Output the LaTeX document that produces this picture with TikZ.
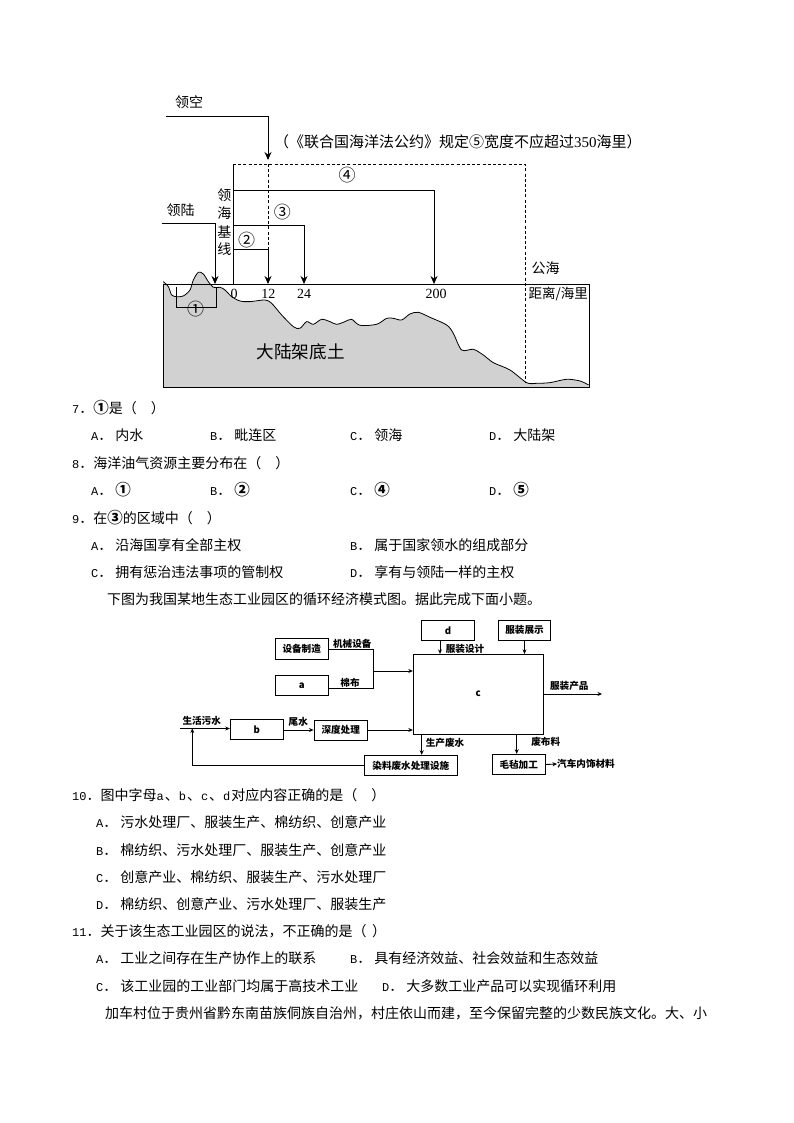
\documentclass[tikz,border=0pt]{standalone}
\usepackage{fontspec}
\setmainfont{Noto Sans CJK SC}
\setmonofont{Liberation Mono}
\newfontfamily\numfont{Liberation Serif}
\usetikzlibrary{arrows.meta}
\usetikzlibrary{positioning}
\newcommand{\ql}[1]{{\ttfamily\fontsize{12}{12}\selectfont #1}}
\newcommand{\opt}[1]{\ql{#1}．\hspace{3pt}}
\newcommand{\cq}[1]{{\bfseries\fontsize{15.5}{16}\selectfont #1}}
\tikzset{
    qline/.style={anchor=west,inner sep=0pt,font=\fontsize{14}{16}\selectfont},
    maplabel/.style={inner sep=0pt,font=\fontsize{14}{16}\selectfont},
    zonelabel/.style={inner sep=0pt,font=\fontsize{17}{18}\selectfont},
    mapnum/.style={inner sep=0pt,font=\numfont\fontsize{14}{16}\selectfont},
    maparrow/.style={line width=0.9pt,-{Stealth[length=8pt,width=7pt]}},
    mapline/.style={line width=0.9pt},
    mapdash/.style={line width=0.9pt,dash pattern=on 3pt off 2.2pt},
    flowbox/.style={draw,line width=1pt,inner sep=0pt,font=\bfseries\fontsize{9.6}{11}\selectfont},
    flowlabel/.style={inner sep=0pt,font=\bfseries\fontsize{9.6}{11}\selectfont},
    flowarrow/.style={line width=0.9pt,-{Stealth[length=4.5pt,width=4pt]}},
    flowline/.style={line width=0.9pt}
}
\begin{document}
\begin{tikzpicture}[x=1pt,y=-1pt]
    \useasboundingbox (0,0) rectangle (794,1123);
    % zone map
    \begin{scope}[shift={(150,80)},x=0.3333pt,y=-0.3333pt]
        \fill[black!18] (40,922) -- (40,605) -- plot[smooth,tension=0.5] coordinates {(40,605) (55,620) (65,645) (80,650) (100,648) (120,630) (130,600) (145,577) (160,582) (175,605) (190,622) (210,622) (225,630) (245,650) (270,663) (300,665) (345,660) (365,670) (395,705) (430,740) (450,745) (470,725) (490,733) (515,718) (540,725) (560,733) (585,725) (605,718) (630,736) (680,733) (710,715) (730,715) (755,720) (780,702) (805,697) (840,712) (890,735) (910,760) (935,810) (970,808) (1000,825) (1030,848) (1080,870) (1130,908) (1160,910) (1200,908) (1250,898) (1290,903) (1316,915)} -- (1316,922) -- cycle;
        \draw[line width=0.8pt] plot[smooth,tension=0.5] coordinates {(40,605) (55,620) (65,645) (80,650) (100,648) (120,630) (130,600) (145,577) (160,582) (175,605) (190,622) (210,622) (225,630) (245,650) (270,663) (300,665) (345,660) (365,670) (395,705) (430,740) (450,745) (470,725) (490,733) (515,718) (540,725) (560,733) (585,725) (605,718) (630,736) (680,733) (710,715) (730,715) (755,720) (780,702) (805,697) (840,712) (890,735) (910,760) (935,810) (970,808) (1000,825) (1030,848) (1080,870) (1130,908) (1160,910) (1200,908) (1250,898) (1290,903) (1316,915)};
    \end{scope}
    \draw[line width=1pt] (163.5,284) rectangle (589,387);
    \coordinate (skystart) at (166,116);
    \coordinate (skytip) at (268,160);
    \coordinate (landstart) at (161.7,223.7);
    \coordinate (marklanding) at (215,284);
    \coordinate (basetop) at (233,164);
    \coordinate (dashtop) at (525,164);
    \coordinate (dashend) at (525,382);
    \coordinate (dashmid) at (268,164);
    \coordinate (dashlow) at (268,250);
    \coordinate (mark0) at (233,284);
    \coordinate (mark12) at (268,284);
    \coordinate (mark24) at (304,284);
    \coordinate (mark200) at (434,284);
    \coordinate (base2) at (233,249.3);
    \coordinate (base3) at (233,225.7);
    \coordinate (base4) at (233,190.7);
    \coordinate (brA) at (176.7,287);
    \coordinate (brB) at (176.7,307);
    \coordinate (brC) at (216.7,307);
    \coordinate (brD) at (216.7,287);
    \draw[mapdash] (basetop) -- (dashtop) -- (dashend);
    \draw[mapdash] (dashmid) -- (dashlow);
    \draw[mapline] (basetop) -- (mark0);
    \draw[maparrow] (skystart) -| (skytip);
    \draw[maparrow] (landstart) -| (marklanding);
    \draw[maparrow] (base2) -| (mark12);
    \draw[maparrow] (base3) -| (mark24);
    \draw[maparrow] (base4) -| (mark200);
    \draw[mapline] (brA) -- (brB) -- (brC) -- (brD);
    \node[maplabel] (skylabel) at (189,102) {领空};
    \node[maplabel] (landlabel) at (180.7,210) {领陆};
    \node[maplabel,anchor=west,font=\fontsize{15}{16}\selectfont] (lawnote) at (274,142.3) {（《联合国海洋法公约》规定⑤宽度不应超过{\numfont 350}海里）};
    \node[maplabel] (baseA) at (224.3,195.3) {领};
    \node[maplabel] (baseB) at (224.3,213.3) {海};
    \node[maplabel] (baseC) at (224.3,231.7) {基};
    \node[maplabel] (baseD) at (224.3,249.3) {线};
    \node[zonelabel] (zone1) at (195.7,309) {①};
    \node[zonelabel] (zone2) at (246.7,240) {②};
    \node[zonelabel] (zone3) at (282.3,212.3) {③};
    \node[zonelabel] (zone4) at (347,175) {④};
    \node[mapnum] (num0) at (234,294) {0};
    \node[mapnum] (num12) at (268.3,294) {12};
    \node[mapnum] (num24) at (304,294) {24};
    \node[mapnum] (num200) at (436,294) {200};
    \node[maplabel] (highsea) at (545.7,268.3) {公海};
    \node[maplabel,font=\fontsize{13.5}{16}\selectfont] (distlabel) at (558.3,294.3) {距离/海里};
    \node[inner sep=0pt,font=\fontsize{17.6}{20}\selectfont] (shelflabel) at (300.7,351.7) {大陆架底土};
    % questions 7 to 9
    \node[qline] (q7) at (72,408) {\ql{7}．\cq{①}是（\hspace{1em}）};
    \node[qline] (q7a) at (91,435) {\opt{A}内水};
    \node[qline] (q7b) at (210,435) {\opt{B}毗连区};
    \node[qline] (q7c) at (350,435) {\opt{C}领海};
    \node[qline] (q7d) at (489,435) {\opt{D}大陆架};
    \node[qline] (q8) at (72,463) {\ql{8}．海洋油气资源主要分布在（\hspace{1em}）};
    \node[qline] (q8a) at (91,490) {\opt{A}\cq{①}};
    \node[qline] (q8b) at (210,490) {\opt{B}\cq{②}};
    \node[qline] (q8c) at (350,490) {\opt{C}\cq{④}};
    \node[qline] (q8d) at (489,490) {\opt{D}\cq{⑤}};
    \node[qline] (q9) at (72,518) {\ql{9}．在\cq{③}的区域中（\hspace{1em}）};
    \node[qline] (q9a) at (91,545) {\opt{A}沿海国享有全部主权};
    \node[qline] (q9b) at (350,545) {\opt{B}属于国家领水的组成部分};
    \node[qline] (q9c) at (91,572) {\opt{C}拥有惩治违法事项的管制权};
    \node[qline] (q9d) at (350,572) {\opt{D}享有与领陆一样的主权};
    \node[qline] (intro) at (107,599) {下图为我国某地生态工业园区的循环经济模式图。据此完成下面小题。};
    % flow chart
    \node[flowbox,minimum width=53.3pt,minimum height=20.6pt] (equip) at (301.7,649) {设备制造};
    \node[flowbox,minimum width=53.3pt,minimum height=20pt] (boxa) at (301.7,685.7) {a};
    \node[flowbox,minimum width=52.6pt,minimum height=20.6pt] (boxd) at (448,630.3) {d};
    \node[flowbox,minimum width=52.4pt,minimum height=20pt] (show) at (524.5,630) {服装展示};
    \node[flowbox,minimum width=130pt,minimum height=79.7pt] (boxc) at (478.3,694.2) {c};
    \node[flowbox,minimum width=53pt,minimum height=20pt] (boxb) at (256.8,729.3) {b};
    \node[flowbox,minimum width=53.3pt,minimum height=20pt] (deep) at (340.7,730) {深度处理};
    \node[flowbox,minimum width=93pt,minimum height=20.4pt] (dye) at (410.8,765.5) {染料废水处理设施};
    \node[flowbox,minimum width=52.7pt,minimum height=20.4pt] (felt) at (518.7,764.5) {毛毡加工};
    \node[flowlabel,anchor=west] (carlabel) at (557,764) {汽车内饰材料};
    \coordinate (joinright) at (373,649);
    \coordinate (joinlow) at (373,688.3);
    \coordinate (joinmid) at (373,671);
    \coordinate (sewagein) at (180,728.5);
    \coordinate (loopup) at (192.3,728.5);
    \coordinate (prodout) at (602,694);
    \draw[flowline] (equip.east |- joinright) -- (joinright) -- (joinlow) -- (boxa.east |- joinlow);
    \draw[flowarrow] (joinmid) -- (boxc.west |- joinmid);
    \draw[flowarrow] (boxd.south -| 440,0) -- (boxc.north -| 440,0);
    \draw[flowarrow] (show.south) -- (boxc.north -| show.south);
    \draw[flowarrow] (boxc.east |- prodout) -- (prodout);
    \draw[flowarrow] (sewagein) -- (boxb.west |- sewagein);
    \draw[flowarrow] (boxb.east |- deep.west) -- (deep.west);
    \draw[flowarrow] (deep.east) -- (boxc.west |- deep.east);
    \draw[flowarrow] (boxc.south -| 421.7,0) -- (dye.north -| 421.7,0);
    \draw[flowarrow] (boxc.south -| 516.7,0) -- (felt.north -| 516.7,0);
    \draw[flowarrow] (felt.east) -- (carlabel.west);
    \draw[flowarrow] (dye.west) -| (loopup);
    \node[flowlabel] (lbequip) at (352.3,643.5) {机械设备};
    \node[flowlabel] (lbcloth) at (350,682.7) {棉布};
    \node[flowlabel] (lbdesign) at (465,649.3) {服装设计};
    \node[flowlabel] (lbprod) at (569.3,686) {服装产品};
    \node[flowlabel] (lbsewage) at (201.7,720.7) {生活污水};
    \node[flowlabel] (lbtail) at (298.3,722.3) {尾水};
    \node[flowlabel] (lbwaste) at (445,743.3) {生产废水};
    \node[flowlabel] (lbscrap) at (545.7,741.7) {废布料};
    % questions 10 and 11
    \node[qline] (q10) at (72,795) {\ql{10}．图中字母\ql{a}\hspace{1pt}、\ql{b}\hspace{1pt}、\ql{c}\hspace{1pt}、\ql{d}\hspace{1pt}对应内容正确的是（\hspace{1em}）};
    \node[qline] (q10a) at (96,822) {\opt{A}污水处理厂、服装生产、棉纺织、创意产业};
    \node[qline] (q10b) at (96,850) {\opt{B}棉纺织、污水处理厂、服装生产、创意产业};
    \node[qline] (q10c) at (96,877) {\opt{C}创意产业、棉纺织、服装生产、污水处理厂};
    \node[qline] (q10d) at (96,904) {\opt{D}棉纺织、创意产业、污水处理厂、服装生产};
    \node[qline] (q11) at (72,931) {\ql{11}．关于该生态工业园区的说法，不正确的是（\hspace{.4em}）};
    \node[qline] (q11a) at (96,958) {\opt{A}工业之间存在生产协作上的联系};
    \node[qline] (q11b) at (350,958) {\opt{B}具有经济效益、社会效益和生态效益};
    \node[qline] (q11c) at (96,986) {\opt{C}该工业园的工业部门均属于高技术工业};
    \node[qline] (q11d) at (382,986) {\opt{D}大多数工业产品可以实现循环利用};
    \node[qline] (passage) at (105,1013) {加车村位于贵州省黔东南苗族侗族自治州，村庄依山而建，至今保留完整的少数民族文化。大、小};
\end{tikzpicture}
\end{document}
